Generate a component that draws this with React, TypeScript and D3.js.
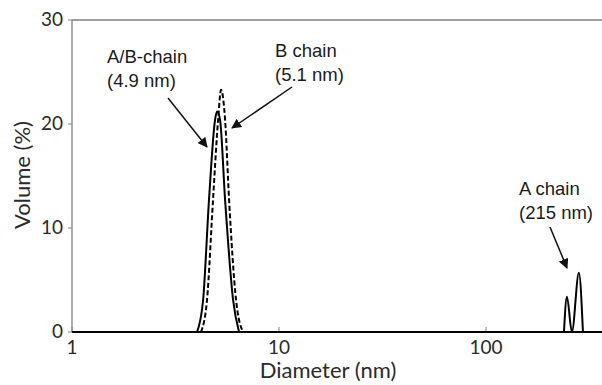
import React, { useEffect, useRef } from 'react';
import * as d3 from 'd3';

// Diameter (nm) and volume (%)
const abDiameter = [4.02, 4.3, 4.59, 4.91, 5.02, 5.19, 5.49, 6.0, 6.41];
const abVolume = [0, 3.1, 12.7, 20.4, 21.2, 20.4, 12.7, 3.1, 0];

const bDiameter = [4.2, 4.49, 4.8, 5.08, 5.25, 5.49, 5.74, 6.2, 6.7];
const bVolume = [0, 3.1, 12.7, 20.4, 23.3, 20.4, 12.7, 3.1, 0];

const aDiameter = [238, 246, 260, 281, 294];
const aVolume = [0, 3.4, 0, 5.7, 0];

const yTicks = [0, 10, 20, 30];
const xTicks = [1, 10, 100];

const annotations = [
  { lines: ['A/B-chain', '(4.9 nm)'], x: 107, y: 63, from: [168, 98], to: [207, 147] },
  { lines: ['B chain', '(5.1 nm)'], x: 275, y: 57, from: [292, 87], to: [232, 128] },
  { lines: ['A chain', '(215 nm)'], x: 519, y: 195, from: [550, 227], to: [567, 268] },
];

const App: React.FC = () => {
  const svgRef = useRef<SVGSVGElement>(null);

  useEffect(() => {
    if (!svgRef.current) return;
    const svg = d3.select(svgRef.current);
    svg.selectAll('*').remove();

    const left = 72;
    const top = 20;
    const bottom = 332;
    const width = 602;

    const x = d3.scaleLog().domain([1, 1000]).range([left, left + 3 * 207]);
    const y = d3.scaleLinear().domain([0, 30]).range([bottom, top]);

    svg
      .append('defs')
      .append('marker')
      .attr('id', 'arrow')
      .attr('viewBox', '0 0 10 10')
      .attr('refX', 9)
      .attr('refY', 5)
      .attr('markerWidth', 10)
      .attr('markerHeight', 10)
      .attr('markerUnits', 'userSpaceOnUse')
      .attr('orient', 'auto')
      .append('path')
      .attr('d', 'M0,0 L10,5 L0,10 z')
      .attr('fill', '#111');

    // frame
    svg.append('line').attr('x1', left).attr('x2', width).attr('y1', top).attr('y2', top)
      .attr('stroke', '#808080').attr('stroke-width', 1.3);
    svg.append('line').attr('x1', left).attr('x2', left).attr('y1', top).attr('y2', bottom)
      .attr('stroke', '#808080').attr('stroke-width', 1.3);

    // y ticks
    yTicks.forEach(t => {
      svg.append('line').attr('x1', left - 4).attr('x2', left).attr('y1', y(t)).attr('y2', y(t))
        .attr('stroke', '#808080').attr('stroke-width', 1);
      svg.append('text')
        .attr('x', left - 9)
        .attr('y', y(t) + 6)
        .attr('text-anchor', 'end')
        .attr('font-family', 'Lato, sans-serif')
        .attr('font-size', 19)
        .attr('fill', '#2a2a2a')
        .text(t);
    });

    // x ticks
    xTicks.forEach(t => {
      svg.append('line').attr('x1', x(t)).attr('x2', x(t)).attr('y1', bottom).attr('y2', bottom - 5)
        .attr('stroke', '#808080').attr('stroke-width', 1);
      svg.append('text')
        .attr('x', x(t))
        .attr('y', 354)
        .attr('text-anchor', 'middle')
        .attr('font-family', 'Lato, sans-serif')
        .attr('font-size', 19)
        .attr('fill', '#2a2a2a')
        .text(t);
    });

    svg.append('text')
      .attr('x', 328)
      .attr('y', 378)
      .attr('text-anchor', 'middle')
      .attr('font-family', 'Lato, sans-serif')
      .attr('font-size', 22)
      .attr('fill', '#2a2a2a')
      .text('Diameter (nm)');

    svg.append('text')
      .attr('transform', `translate(30,175) rotate(-90)`)
      .attr('text-anchor', 'middle')
      .attr('font-family', 'Lato, sans-serif')
      .attr('font-size', 22)
      .attr('fill', '#2a2a2a')
      .text('Volume (%)');

    const line = d3
      .line<[number, number]>()
      .x(d => x(d[0]))
      .y(d => y(d[1]))
      .curve(d3.curveMonotoneX);

    const series = [
      { d: abDiameter, v: abVolume, dash: null },
      { d: bDiameter, v: bVolume, dash: '5,2.5' },
      { d: aDiameter, v: aVolume, dash: null },
    ];
    series.forEach(s => {
      svg.append('path')
        .datum(s.d.map((d, i) => [d, s.v[i]] as [number, number]))
        .attr('d', line)
        .attr('fill', 'none')
        .attr('stroke', '#000')
        .attr('stroke-width', 2)
        .attr('stroke-dasharray', s.dash);
    });

    // x axis line
    svg.append('line').attr('x1', left).attr('x2', width).attr('y1', bottom).attr('y2', bottom)
      .attr('stroke', '#000').attr('stroke-width', 2);

    // annotations
    annotations.forEach(a => {
      a.lines.forEach((l, i) => {
        svg.append('text')
          .attr('x', a.x)
          .attr('y', a.y + i * 24)
          .attr('font-family', '"Liberation Sans", Arial, sans-serif')
          .attr('font-size', 18.5)
          .attr('fill', '#1a1a1a')
          .text(l);
      });
      svg.append('line')
        .attr('x1', a.from[0]).attr('y1', a.from[1])
        .attr('x2', a.to[0]).attr('y2', a.to[1])
        .attr('stroke', '#111')
        .attr('stroke-width', 1.5)
        .attr('marker-end', 'url(#arrow)');
    });
  }, []);

  return (
    <div style={{ position: 'fixed', left: 0, top: 0, background: '#fff' }}>
      <svg ref={svgRef} width={602} height={385} style={{ display: 'block' }}></svg>
    </div>
  );
};

export default App;
